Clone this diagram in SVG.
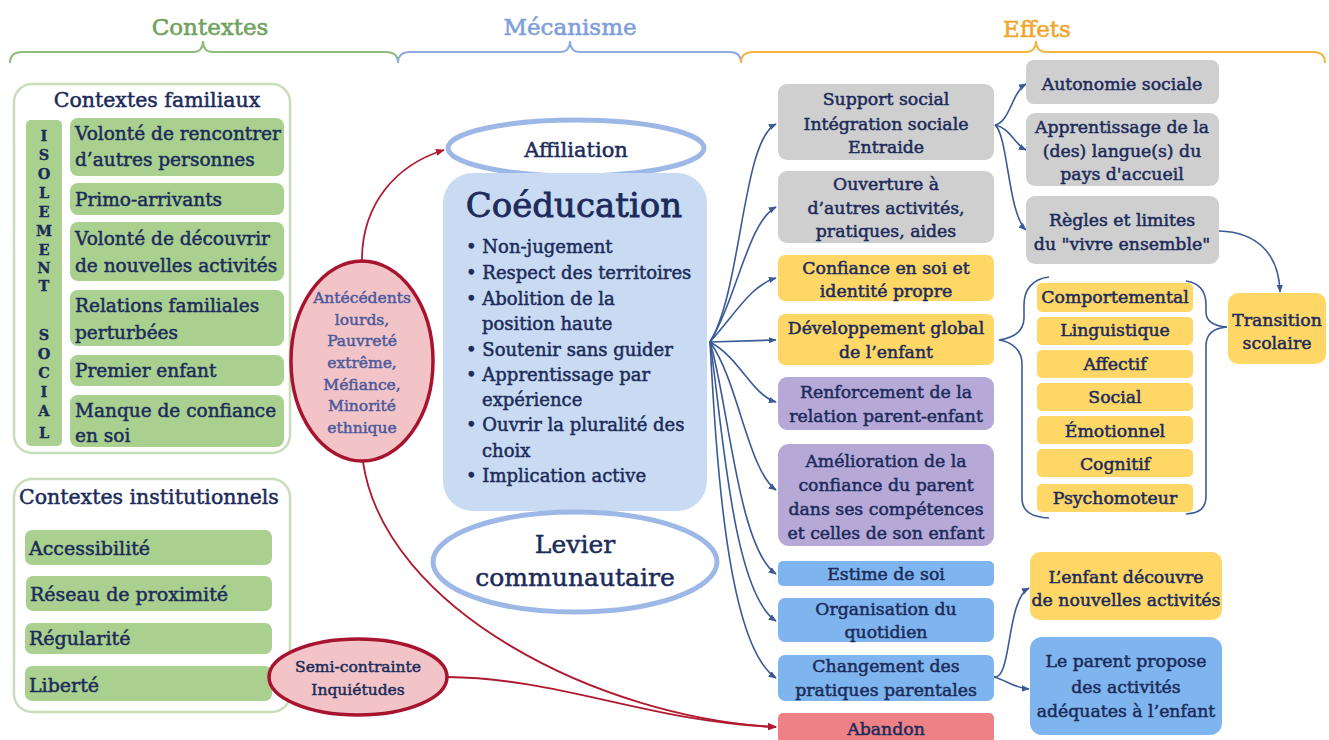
<svg xmlns="http://www.w3.org/2000/svg" width="1329" height="740" viewBox="0 0 1329 740">
<defs>
<style>
text{font-family:"DejaVu Serif","Liberation Serif",serif;fill:#1c2b5a;stroke:#1c2b5a;stroke-width:0.5px}
.h{font-size:23px;text-anchor:middle;stroke-width:0.6px}
.c{text-anchor:middle}
.g{font-size:18.5px}
.gi{font-size:19px}
.e{font-size:17.3px;text-anchor:middle}
.iso{font-size:14.5px;font-weight:bold;text-anchor:middle;stroke-width:0.3px}
.bul{font-size:18px}
.green{fill:#a9d08e}
.gray{fill:#cfcfcf}
.yel{fill:#fed766}
.pur{fill:#b6a9d8}
.blu{fill:#7fb5ee}
.red{fill:#ee8185}
.bc{fill:none;stroke:#3a5a96;stroke-width:1.6}
.rc{fill:none;stroke:#b01a30;stroke-width:1.8}
.ell{fill:#fff;stroke:#9db8e6;stroke-width:5}
.rell{fill:#f3c4c7;stroke:#a8142f;stroke-width:3.5}
.brace{fill:none;stroke-width:2}
.rt{fill:#4b5a9c;stroke:#4b5a9c;font-size:15.5px;text-anchor:middle}
</style>
<marker id="ab" viewBox="0 0 10 10" refX="9" refY="5" markerWidth="8" markerHeight="8" orient="auto" markerUnits="userSpaceOnUse"><path d="M0,1 L10,5 L0,9 z" fill="#3a5a96"/></marker>
<marker id="ar" viewBox="0 0 10 10" refX="9" refY="5" markerWidth="9" markerHeight="9" orient="auto" markerUnits="userSpaceOnUse"><path d="M0,1 L10,5 L0,9 z" fill="#b01a30"/></marker>
</defs>
<rect width="1329" height="740" fill="#fff"/>

<g id="headers">
<text class="h" x="210" y="35" style="fill:#6fa35c;stroke:#6fa35c">Contextes</text>
<text class="h" x="570" y="35" style="fill:#7f9fdc;stroke:#7f9fdc">Mécanisme</text>
<text class="h" x="1037" y="37" style="fill:#f2a632;stroke:#f2a632">Effets</text>
<path class="brace" stroke="#8fba7a" d="M10,63 Q10,52 22,52 L193,52 Q203,52 203,41 Q203,52 213,52 L386,52 Q398,52 398,63"/>
<path class="brace" stroke="#8eaae0" d="M398,63 Q398,52 410,52 L560,52 Q570,52 570,41 Q570,52 580,52 L730,52 Q741,52 741,63"/>
<path class="brace" stroke="#f2b542" d="M741,63 Q741,52 753,52 L1025,52 Q1036,52 1036,41 Q1036,52 1047,52 L1313,52 Q1325,52 1325,63"/>
</g>

<g id="contextes-familiaux">
<rect x="14" y="84" width="276" height="369" rx="18" fill="#fff" stroke="#c8ddb9" stroke-width="2.5"/>
<text class="c" x="157" y="107" style="font-size:20.5px">Contextes familiaux</text>
<rect class="green" x="26" y="120" width="36" height="326" rx="5"/>
<g class="iso-letters">
<text class="iso" x="44" y="141">I</text>
<text class="iso" x="44" y="160">S</text>
<text class="iso" x="44" y="179">O</text>
<text class="iso" x="44" y="198">L</text>
<text class="iso" x="44" y="217">E</text>
<text class="iso" x="44" y="236">M</text>
<text class="iso" x="44" y="255">E</text>
<text class="iso" x="44" y="273">N</text>
<text class="iso" x="44" y="291">T</text>
<text class="iso" x="44" y="340">S</text>
<text class="iso" x="44" y="359">O</text>
<text class="iso" x="44" y="378">C</text>
<text class="iso" x="44" y="397">I</text>
<text class="iso" x="44" y="416">A</text>
<text class="iso" x="44" y="438">L</text>
</g>
</g>
<g id="f1"><rect class="green" x="70" y="118" width="214" height="58" rx="8"/><text class="g" x="75" y="140">Volonté de rencontrer</text><text class="g" x="75" y="166">d’autres personnes</text></g>
<g id="f2"><rect class="green" x="70" y="183" width="214" height="32" rx="8"/><text class="g" x="75" y="206">Primo-arrivants</text></g>
<g id="f3"><rect class="green" x="70" y="222" width="214" height="59" rx="8"/><text class="g" x="75" y="245">Volonté de découvrir</text><text class="g" x="75" y="272">de nouvelles activités</text></g>
<g id="f4"><rect class="green" x="70" y="290" width="214" height="56" rx="8"/><text class="g" x="75" y="312">Relations familiales</text><text class="g" x="75" y="339">perturbées</text></g>
<g id="f5"><rect class="green" x="70" y="355" width="214" height="31" rx="8"/><text class="g" x="75" y="377">Premier enfant</text></g>
<g id="f6"><rect class="green" x="70" y="395" width="214" height="52" rx="8"/><text class="g" x="75" y="417">Manque de confiance</text><text class="g" x="75" y="442">en soi</text></g>

<g id="contextes-institutionnels">
<rect x="14" y="479" width="276" height="233" rx="18" fill="#fff" stroke="#c8ddb9" stroke-width="2.5"/>
<text x="19" y="504" style="font-size:20.5px">Contextes institutionnels</text>
</g>
<g id="i1"><rect class="green" x="25" y="530" width="247" height="35" rx="7"/><text class="gi" x="29" y="555">Accessibilité</text></g>
<g id="i2"><rect class="green" x="26" y="576" width="246" height="35" rx="7"/><text class="gi" x="30" y="601">Réseau de proximité</text></g>
<g id="i3"><rect class="green" x="25" y="623" width="247" height="31" rx="7"/><text class="gi" x="29" y="645">Régularité</text></g>
<g id="i4"><rect class="green" x="25" y="666" width="247" height="35" rx="7"/><text class="gi" x="29" y="692">Liberté</text></g>

<g id="connectors">
<path class="rc" marker-end="url(#ar)" d="M362,260 C362,205 395,165 444,150"/>
<path class="rc" marker-end="url(#ar)" d="M363,462 C385,610 600,718 776,727"/>
<path class="rc" marker-end="url(#ar)" d="M447,677 C560,678 650,722 776,727"/>
<path class="bc" marker-end="url(#ab)" d="M710,342 C742,290 742,140 776,124"/>
<path class="bc" marker-end="url(#ab)" d="M710,342 C738,295 748,222 776,207"/>
<path class="bc" marker-end="url(#ab)" d="M710,342 C738,310 752,285 776,278"/>
<path class="bc" marker-end="url(#ab)" d="M710,342 L776,340"/>
<path class="bc" marker-end="url(#ab)" d="M710,342 C740,358 752,395 776,402"/>
<path class="bc" marker-end="url(#ab)" d="M710,342 C738,380 748,470 776,490"/>
<path class="bc" marker-end="url(#ab)" d="M710,342 C728,400 738,548 776,574"/>
<path class="bc" marker-end="url(#ab)" d="M710,342 C722,420 732,592 776,621"/>
<path class="bc" marker-end="url(#ab)" d="M710,342 C716,450 726,645 776,678"/>
<path class="bc" marker-end="url(#ab)" d="M995,125 C1010,122 1012,92 1026,84"/>
<path class="bc" marker-end="url(#ab)" d="M995,125 C1010,128 1014,144 1026,150"/>
<path class="bc" marker-end="url(#ab)" d="M995,125 C1008,135 1008,214 1026,230"/>
<path class="bc" marker-end="url(#ab)" d="M1219,231 C1258,232 1279,255 1280,292"/>
<path class="bc" marker-end="url(#ab)" d="M994,677 C1012,680 1006,600 1029,588"/>
<path class="bc" marker-end="url(#ab)" d="M994,677 C1006,680 1014,688 1029,689"/>
<path class="bc" d="M1049,277 C1032,279 1024,290 1024,305 L1024,318 C1024,332 1012,338 999,340 C1012,342 1022,350 1022,364 L1022,498 C1022,512 1032,517 1049,518"/>
<path class="bc" d="M1186,281 C1200,283 1206,292 1206,305 L1206,312 C1206,322 1214,326 1227,327 C1214,328 1206,334 1206,346 L1206,496 C1206,508 1200,513 1186,514"/>
</g>

<g id="antecedents">
<ellipse class="rell" cx="362" cy="361" rx="71" ry="100"/>
<text class="rt" x="362" y="303">Antécédents</text>
<text class="rt" x="362" y="325">lourds,</text>
<text class="rt" x="362" y="346">Pauvreté</text>
<text class="rt" x="362" y="368">extrême,</text>
<text class="rt" x="362" y="390">Méfiance,</text>
<text class="rt" x="362" y="411">Minorité</text>
<text class="rt" x="362" y="433">ethnique</text>
</g>
<g id="semi-contrainte">
<ellipse class="rell" cx="358" cy="677" rx="89" ry="38"/>
<text class="c" x="358" y="672" style="font-size:15.5px">Semi-contrainte</text>
<text class="c" x="358" y="695" style="font-size:15.5px">Inquiétudes</text>
</g>

<g id="affiliation">
<ellipse class="ell" cx="576" cy="148" rx="128" ry="28"/>
<text class="c" x="576" y="157" style="font-size:21px">Affiliation</text>
</g>
<g id="coeducation">
<rect x="443" y="173" width="264" height="338" rx="30" fill="#c8dbf2"/>
<text class="c" x="574" y="217" style="font-size:34px;stroke-width:0.8px">Coéducation</text>
<g class="bul">
<text x="466" y="253">• Non-jugement</text>
<text x="466" y="279">• Respect des territoires</text>
<text x="466" y="305">• Abolition de la</text>
<text x="482" y="330">position haute</text>
<text x="466" y="356">• Soutenir sans guider</text>
<text x="466" y="381">• Apprentissage par</text>
<text x="482" y="406">expérience</text>
<text x="466" y="431">• Ouvrir la pluralité des</text>
<text x="482" y="457">choix</text>
<text x="466" y="482">• Implication active</text>
</g>
</g>
<g id="levier">
<ellipse class="ell" cx="575" cy="562" rx="142" ry="50"/>
<text class="c" x="575" y="553" style="font-size:25px">Levier</text>
<text class="c" x="575" y="586" style="font-size:25px">communautaire</text>
</g>

<g id="support-social"><rect class="gray" x="778" y="84" width="216" height="76" rx="9"/><text class="e" x="886" y="105">Support social</text><text class="e" x="886" y="130">Intégration sociale</text><text class="e" x="886" y="153">Entraide</text></g>
<g id="ouverture"><rect class="gray" x="778" y="171" width="216" height="72" rx="9"/><text class="e" x="886" y="190">Ouverture à</text><text class="e" x="886" y="214">d’autres activités,</text><text class="e" x="886" y="237">pratiques, aides</text></g>
<g id="confiance"><rect class="yel" x="778" y="255" width="216" height="46" rx="7"/><text class="e" x="886" y="274">Confiance en soi et</text><text class="e" x="886" y="297">identité propre</text></g>
<g id="developpement"><rect class="yel" x="778" y="314" width="216" height="51" rx="7"/><text class="e" x="886" y="334">Développement global</text><text class="e" x="886" y="358">de l’enfant</text></g>
<g id="renforcement"><rect class="pur" x="778" y="377" width="216" height="53" rx="9"/><text class="e" x="886" y="398">Renforcement de la</text><text class="e" x="886" y="422">relation parent-enfant</text></g>
<g id="amelioration"><rect class="pur" x="778" y="444" width="216" height="102" rx="11"/><text class="e" x="886" y="467">Amélioration de la</text><text class="e" x="886" y="491">confiance du parent</text><text class="e" x="886" y="515">dans ses compétences</text><text class="e" x="886" y="539">et celles de son enfant</text></g>
<g id="estime"><rect class="blu" x="778" y="561" width="216" height="25" rx="5"/><text class="e" x="886" y="580">Estime de soi</text></g>
<g id="organisation"><rect class="blu" x="778" y="598" width="216" height="44" rx="7"/><text class="e" x="886" y="615">Organisation du</text><text class="e" x="886" y="638">quotidien</text></g>
<g id="changement"><rect class="blu" x="778" y="655" width="216" height="46" rx="7"/><text class="e" x="886" y="672">Changement des</text><text class="e" x="886" y="696">pratiques parentales</text></g>
<g id="abandon"><rect class="red" x="778" y="713" width="216" height="30" rx="5"/><text class="e" x="886" y="735">Abandon</text></g>

<g id="autonomie"><rect class="gray" x="1026" y="60" width="193" height="44" rx="8"/><text class="e" x="1122" y="90">Autonomie sociale</text></g>
<g id="apprentissage"><rect class="gray" x="1026" y="113" width="193" height="73" rx="9"/><text class="e" x="1122" y="133">Apprentissage de la</text><text class="e" x="1122" y="157">(des) langue(s) du</text><text class="e" x="1122" y="180">pays d'accueil</text></g>
<g id="regles"><rect class="gray" x="1026" y="196" width="193" height="68" rx="9"/><text class="e" x="1122" y="226">Règles et limites</text><text class="e" x="1122" y="250">du "vivre ensemble"</text></g>

<g id="comportemental"><rect class="yel" x="1037" y="283" width="156" height="29" rx="5"/><text class="e" x="1115" y="303">Comportemental</text></g>
<g id="linguistique"><rect class="yel" x="1037" y="317" width="156" height="28" rx="5"/><text class="e" x="1115" y="336">Linguistique</text></g>
<g id="affectif"><rect class="yel" x="1037" y="350" width="156" height="28" rx="5"/><text class="e" x="1115" y="370">Affectif</text></g>
<g id="social"><rect class="yel" x="1037" y="383" width="156" height="28" rx="5"/><text class="e" x="1115" y="403">Social</text></g>
<g id="emotionnel"><rect class="yel" x="1037" y="416" width="156" height="28" rx="5"/><text class="e" x="1115" y="437">Émotionnel</text></g>
<g id="cognitif"><rect class="yel" x="1037" y="449" width="156" height="28" rx="5"/><text class="e" x="1115" y="470">Cognitif</text></g>
<g id="psychomoteur"><rect class="yel" x="1037" y="484" width="156" height="28" rx="5"/><text class="e" x="1115" y="504">Psychomoteur</text></g>

<g id="transition"><rect class="yel" x="1228" y="293" width="98" height="71" rx="10"/><text class="e" x="1277" y="326">Transition</text><text class="e" x="1277" y="349">scolaire</text></g>
<g id="enfant-decouvre"><rect class="yel" x="1030" y="552" width="192" height="68" rx="10"/><text class="e" x="1126" y="583">L’enfant découvre</text><text class="e" x="1126" y="606">de nouvelles activités</text></g>
<g id="parent-propose"><rect class="blu" x="1030" y="637" width="192" height="98" rx="12"/><text class="e" x="1126" y="667">Le parent propose</text><text class="e" x="1126" y="693">des activités</text><text class="e" x="1126" y="717">adéquates à l’enfant</text></g>
</svg>
